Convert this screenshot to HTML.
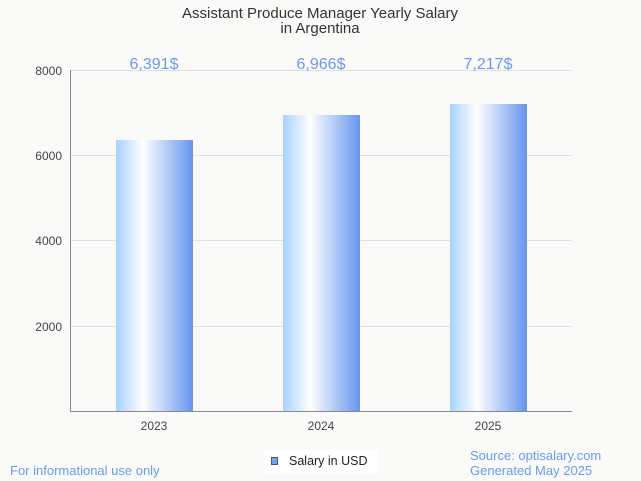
<!DOCTYPE html>
<html><head><style>
body{margin:0;background:#fafaf8;}
svg{display:block;font-family:"Liberation Sans",sans-serif;}
</style></head><body>
<svg width="641" height="481" viewBox="0 0 641 481">
<defs><linearGradient id="g" x1="0" x2="1" y1="0" y2="0">
<stop offset="0" stop-color="#a6d2ff"/><stop offset="0.35" stop-color="#ffffff"/><stop offset="1" stop-color="#6595ee"/>
</linearGradient></defs>
<rect width="641" height="481" fill="#fafaf8"/>
<text x="320" y="18" text-anchor="middle" font-size="15" fill="#333">Assistant Produce Manager Yearly Salary</text>
<text x="320" y="33" text-anchor="middle" font-size="15" fill="#333">in Argentina</text>
<g stroke="#e0e0e0" stroke-width="1">
<line x1="70" x2="572" y1="70.5" y2="70.5"/><line x1="70" x2="572" y1="155.5" y2="155.5"/>
<line x1="70" x2="572" y1="240.5" y2="240.5"/><line x1="70" x2="572" y1="326.5" y2="326.5"/>
</g>
<g font-size="12" fill="#444" text-anchor="end">
<text x="62" y="75">8000</text><text x="62" y="160">6000</text><text x="62" y="245">4000</text><text x="62" y="331">2000</text>
</g>
<rect x="116" y="140" width="77" height="271" fill="url(#g)"/>
<rect x="283" y="115" width="77" height="296" fill="url(#g)"/>
<rect x="450" y="104" width="77" height="307" fill="url(#g)"/>
<line x1="70.5" x2="70.5" y1="70" y2="411" stroke="#888"/>
<line x1="70" x2="572" y1="411.5" y2="411.5" stroke="#888"/>
<g font-size="16" fill="#6a9af0" text-anchor="middle">
<text x="154" y="69">6,391$</text><text x="321" y="69">6,966$</text><text x="488" y="69">7,217$</text>
</g>
<g font-size="12" fill="#444" text-anchor="middle">
<text x="154" y="430">2023</text><text x="321" y="430">2024</text><text x="488" y="430">2025</text>
</g>
<rect x="264" y="449" width="114" height="24" fill="#fff"/>
<rect x="271.5" y="457.5" width="6" height="7" fill="#6aa8ee" stroke="#555"/>
<text x="289" y="465" font-size="12.5" fill="#222">Salary in USD</text>
<text x="10" y="475" font-size="13" fill="#6a9af0">For informational use only</text>
<text x="470" y="460" font-size="13" fill="#6a9af0">Source: optisalary.com</text>
<text x="470" y="475" font-size="13" fill="#6a9af0">Generated May 2025</text>
</svg>
</body></html>
